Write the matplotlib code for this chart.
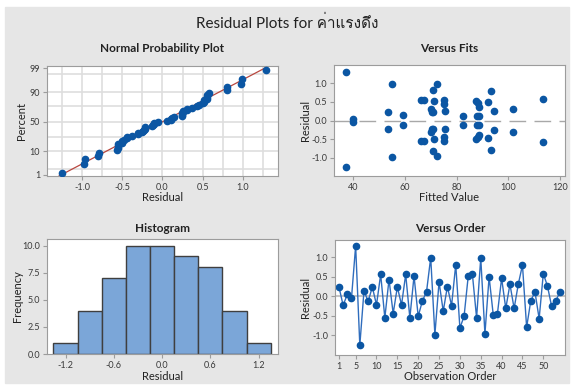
import numpy as np
import matplotlib
matplotlib.use("Agg")
import matplotlib.pyplot as plt
from matplotlib import font_manager
from matplotlib.ft2font import FT2Font
from statistics import NormalDist

# residuals in observation order (1..54)
residuals = [0.24, -0.23, 0.05, -0.05, 1.29, -1.25, 0.14, -0.13, 0.24, -0.22,
             0.56, -0.55, 0.43, -0.44, 0.24, -0.22, 0.56, -0.55, 0.52, -0.51,
             -0.12, 0.12, 0.99, -0.98, 0.37, -0.38, 0.25, -0.24, 0.81, -0.81,
             -0.51, 0.52, 0.56, -0.55, 0.98, -0.96, 0.50, -0.48, -0.44, 0.46,
             -0.31, 0.31, -0.31, 0.31, 0.80, -0.79, -0.11, 0.11, -0.57, 0.58,
             0.26, -0.26, -0.11, 0.11]

# fitted values, same order
fitted = [53.3, 53.3, 39.9, 39.9, 37.2, 37.2, 59.4, 59.4, 70.8, 70.8,
          66.2, 66.2, 75.2, 75.2, 70.4, 70.4, 67.3, 67.3, 71.1, 71.1,
          82.4, 82.4, 55.1, 55.1, 88.5, 88.5, 75.7, 75.7, 71.0, 71.0,
          87.5, 87.5, 75.2, 75.2, 72.4, 72.4, 92.0, 92.0, 88.3, 88.3,
          70.0, 70.0, 101.8, 101.8, 93.3, 93.3, 87.8, 87.8, 113.4, 113.4,
          94.6, 94.6, 88.6, 88.6]

observation = list(range(1, len(residuals) + 1))

pct_ticks = [1, 10, 50, 90, 99]
pct_grid = [2, 10, 25, 50, 75, 90, 98]
hist_bins = [-1.35, -1.05, -0.75, -0.45, -0.15, 0.15, 0.45, 0.75, 1.05, 1.35]


def thai_font():
    for f in font_manager.fontManager.ttflist:
        try:
            if 0x0E04 in FT2Font(f.fname).get_charmap():
                return f.name
        except Exception:
            pass
    return "DejaVu Sans"


plt.rcParams["font.family"] = ["Lato", thai_font(), "DejaVu Sans"]
plt.rcParams["axes.unicode_minus"] = False

BLUE = "#0b56a3"
SPINE = "#9c9c9c"
TXT = "#3a3a3a"

W, H = 574, 387
fig = plt.figure(figsize=(W / 100, H / 100), dpi=100)
fig.patch.set_facecolor("white")
fig.add_artist(plt.Rectangle((5 / W, 4 / H), 564 / W, 376 / H,
                             transform=fig.transFigure, color="#e6e6e6", zorder=0))


def box(l, t, r, b):
    ax = fig.add_axes([l / W, 1 - b / H, (r - l) / W, (b - t) / H])
    for s in ax.spines.values():
        s.set_color(SPINE)
    ax.tick_params(length=3, width=0.8, color=SPINE, labelsize=6.5,
                   labelcolor=TXT, pad=2)
    return ax


def label(ax, px, title, xlab, ylab, title_y, xlab_y, ylab_x):
    l, t, r, b = px
    fig.text((l + r) / 2 / W, 1 - title_y / H, title, ha="center", va="center",
             fontsize=8.5, fontweight="bold", color="#222222")
    fig.text((l + r) / 2 / W, 1 - xlab_y / H, xlab, ha="center", va="center",
             fontsize=8, color="#222222")
    fig.text(ylab_x / W, 1 - (t + b) / 2 / H, ylab, ha="center", va="center",
             rotation=90, fontsize=8, color="#222222")


fig.text(0.5, 1 - 23 / H, "Residual Plots for ค่าแรงดึง", ha="center",
         va="center", fontsize=11, color="#222222")

nd = NormalDist()

# Normal probability plot
p1 = (47, 66, 278, 176)
ax1 = box(*p1)
srt = np.sort(residuals)
n = len(srt)
z = [nd.inv_cdf((i + 1 - 0.3) / (n + 0.4)) for i in range(n)]
zlo, zhi = -2.37, 2.42
for g in pct_grid:
    ax1.axhline(nd.inv_cdf(g / 100), color="#dedede", lw=1.2, zorder=0)
for g in [-1.25, -1.0, -0.75, -0.5, -0.25, 0, 0.25, 0.5, 0.75, 1.0, 1.25]:
    ax1.axvline(g, color="#dedede", lw=1.2, zorder=0)
mu, sd = np.mean(residuals), np.std(residuals, ddof=1)
zz = np.array([zlo, zhi])
ax1.plot(mu + sd * zz, zz, color="#b8473f", lw=0.9, zorder=2)
ax1.plot(srt, z, "o", color=BLUE, ms=4.5, zorder=3)
ax1.set_xlim(-1.44, 1.44)
ax1.set_ylim(zlo, zhi)
ax1.set_yticks([nd.inv_cdf(p / 100) for p in pct_ticks])
ax1.set_yticklabels([str(p) for p in pct_ticks])
ax1.set_xticks([-1.0, -0.5, 0.0, 0.5, 1.0])
ax1.set_xticklabels(["-1.0", "-0.5", "0.0", "0.5", "1.0"])
label(ax1, p1, "Normal Probability Plot", "Residual", "Percent", 48, 197, 22)

# Versus fits
p2 = (334, 65, 565, 176)
ax2 = box(*p2)
ax2.axhline(0, color="#a8a8a8", lw=1, dashes=(12, 6), zorder=0)
ax2.plot(fitted, residuals, "o", color=BLUE, ms=4.5)
ax2.set_xlim(32.5, 122)
ax2.set_ylim(-1.49, 1.49)
ax2.set_xticks([40, 60, 80, 100, 120])
ax2.set_yticks([-1.0, -0.5, 0.0, 0.5, 1.0])
ax2.set_yticklabels(["-1.0", "-0.5", "0.0", "0.5", "1.0"])
label(ax2, p2, "Versus Fits", "Fitted Value", "Residual", 48, 197, 305)

# Histogram
p3 = (47, 239, 278, 354)
ax3 = box(*p3)
ax3.hist(residuals, bins=hist_bins, facecolor="#7ba6d8", edgecolor="#3f3f3f", lw=1)
ax3.set_xlim(-1.43, 1.44)
ax3.set_ylim(0, 10.6)
ax3.set_xticks([-1.2, -0.6, 0.0, 0.6, 1.2])
ax3.set_xticklabels(["-1.2", "-0.6", "0.0", "0.6", "1.2"])
ax3.set_yticks([0, 2.5, 5, 7.5, 10])
ax3.set_yticklabels(["0.0", "2.5", "5.0", "7.5", "10.0"])
label(ax3, p3, "Histogram", "Residual", "Frequency", 228, 377, 18)

# Versus order
p4 = (335, 240, 565, 355)
ax4 = box(*p4)
ax4.axhline(0, color="#c4c4c4", lw=1.5, zorder=0)
ax4.plot(observation, residuals, "-", color="#2f6dbd", lw=1)
ax4.plot(observation, residuals, "o", color=BLUE, ms=4.5)
ax4.set_xlim(0.05, 55.2)
ax4.set_ylim(-1.5, 1.44)
ax4.set_xticks([1, 5, 10, 15, 20, 25, 30, 35, 40, 45, 50])
ax4.set_yticks([-1.0, -0.5, 0.0, 0.5, 1.0])
ax4.set_yticklabels(["-1.0", "-0.5", "0.0", "0.5", "1.0"])
label(ax4, p4, "Versus Order", "Observation Order", "Residual", 228, 377, 305)

fig.savefig("out.png", dpi=100)
